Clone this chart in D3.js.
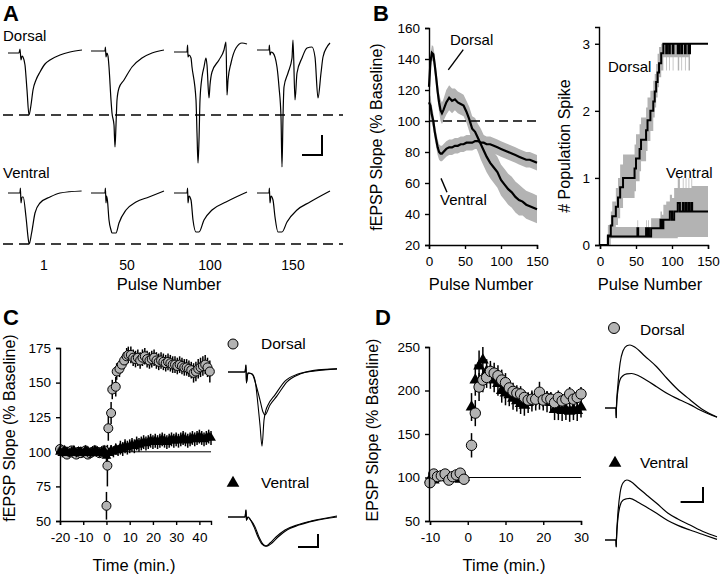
<!DOCTYPE html>
<html><head><meta charset="utf-8">
<script src="https://cdn.jsdelivr.net/npm/d3@7"></script>
<style>body{margin:0;background:#fff}svg{display:block}</style>
</head><body><svg id="fig" width="720" height="578"></svg>
<script>
// ---------------- DATA ----------------
// Panel A: example fEPSP traces [ms, mV] at pulses 1, 50, 100, 150
const pulseLabels = ["1", "50", "100", "150"];
const dorsalA1 = [[0,-0.05],[2.75,-0.05],[3,0.15],[3.25,-0.4],[3.5,-0.2],[3.75,-0.25],[4.25,-0.65],[4.75,-1.9],[5.25,-3.15],[5.75,-2.65],[6.25,-1.9],[7,-1.4],[8,-1],[9.25,-0.6],[10.5,-0.4],[13,-0.15],[15.5,0],[18.5,0.1]];
const dorsalA2 = [[0,0.05],[3.5,0.05],[3.6,0.25],[3.75,-0.25],[4,-0.05],[4.25,-0.2],[4.5,-0.75],[5,-2.4],[5.25,-3.05],[5.75,-3.65],[6,-4.75],[6.25,-3.65],[6.5,-2.4],[7,-1.8],[8.25,-1.4],[10.25,-0.75],[12.75,-0.3],[15.25,-0.05],[18.25,0.1]];
const dorsalA3 = [[0,0],[3.25,0],[3.4,0.35],[3.5,-0.25],[3.75,-0.15],[4.25,-0.3],[4.5,-0.75],[5.5,-2.4],[5.75,-4.05],[6,-5.55],[6.25,-4.4],[6.5,-2.4],[7,-1.25],[7.5,-0.75],[8,-0.3],[8.25,-0.65],[8.75,-2.3],[9,-1.65],[9.5,-1],[11.25,-0.4],[12.5,0.1],[13,0.5],[13.25,-2.15],[13.5,-1.4],[14.25,-0.55],[15.5,0.2],[17,0.45],[18.25,0.4]];
const dorsalA4 = [[0,0.1],[3,0.1],[3.1,0.35],[3.25,-0.15],[3.5,0],[4,-0.05],[5,-0.75],[5.5,-1.75],[6,-3.25],[6.25,-5.75],[6.5,-3.25],[6.75,-1.75],[7.75,-1.05],[8.75,-0.3],[9,0.6],[9.5,-2.4],[10,-1.05],[11.25,-0.3],[12.5,0.2],[13.75,0.25],[14.5,-0.25],[15.25,-2.3],[16,-1.05],[16.5,-0.25],[17.5,0.25],[18.25,0.45]];
const ventralA1 = [[0,0],[3,0],[3.1,0.25],[3.25,-0.5],[3.5,-0.2],[3.8,-0.2],[4.5,-1.2],[5.1,-2.35],[5.3,-2.55],[5.9,-2],[6.75,-1],[8,-0.5],[10.5,-0.2],[13,0],[18.4,0.1]];
const ventralA2 = [[0,0],[3.5,0],[3.6,0.25],[3.75,-0.5],[3.9,-0.15],[4.1,-0.35],[4.5,-1.35],[5,-1.85],[5.25,-2],[6.25,-2],[7,-1.5],[8.75,-0.85],[11.25,-0.45],[14.5,-0.2],[18.25,0.1]];
const ventralA3 = [[0,0],[3.25,0],[3.4,0.25],[3.5,-0.5],[3.75,-0.15],[4.25,-0.35],[4.75,-1.35],[5.5,-1.95],[6.25,-1.95],[7.5,-1.35],[9.5,-0.85],[13,-0.45],[18.25,0.05]];
const ventralA4 = [[0,0],[3,0],[3.1,0.25],[3.25,-0.5],[3.5,-0.15],[4,-0.35],[4.5,-1.2],[5.25,-1.95],[6.25,-1.95],[7.5,-1.45],[10,-0.85],[13.25,-0.45],[18.25,0.1]];

// Panel B left: fEPSP slope (% baseline) vs pulse number
const pulseB = [0,2,4,6,8,10,12,14,16,18,20,24,28,32,36,40,44,48,52,56,60,64,68,72,76,80,85,90,95,100,105,110,115,120,125,130,135,140,145,150];
const dorsalB = [122,138,144,143,136,128,119,112,107,105,107,112,115,113,114,112,111,110,106,101,95,93,89,85,81,77,73,70,67,62,59,56,54,51,49,48,46,45,44,43];
const dorsalBsem = [5,5,5,5,6,6,6,6,7,7,7,8,8,8,7,7,7,7,7,8,8,9,9,10,10,10,10,10,10,10,10,10,10,10,10,9,9,9,9,9];
const ventralB = [112,110,104,100,93,88,83,80,79,79,80,82,83,83,84,84,85,85,86,86,86,87,87,86,86,85,85,84,83,82,81,80,79,78,77,76,75,75,74,73];
const ventralBsem = [6,6,6,5,5,5,5,5,5,5,5,5,5,5,5,5,5,5,5,5,5,5,5,5,5,5,5,5,5,5,5,5,5,5,5,5,5,5,5,5];

// Panel B right: # population spikes (step data)
const spikePulseD = [0,11,15,17,22,25,28,32,48,50,55,57,64,66,70,74,76,78,80,82,85,88,92,93,96,97,101,102,108,110,113,114,118,119,123,125,150];
const spikeDorsal = [0,0.14,0.29,0.43,0.57,0.71,0.86,1.0,1.14,1.29,1.43,1.57,1.71,1.86,2.0,2.14,2.29,2.43,2.57,2.71,2.86,3,2.86,3,2.86,3,2.86,3,2.86,3,2.86,3,2.86,3,2.86,3,3];
const spikeDorsalLo = [0,0,0.1,0.2,0.3,0.4,0.55,0.7,0.8,0.95,1.1,1.25,1.4,1.55,1.7,1.9,2.05,2.2,2.35,2.5,2.6,2.8,2.6,2.8,2.6,2.8,2.6,2.8,2.6,2.8,2.6,2.8,2.6,2.8,2.6,3,3];
const spikeDorsalHi = [0,0.3,0.5,0.65,0.85,1.0,1.2,1.35,1.5,1.65,1.8,1.9,2.05,2.2,2.3,2.45,2.55,2.7,2.85,2.95,3,3,3,3,3,3,3,3,3,3,3,3,3,3,3,3,3];
const spikePulseV = [0,11,52,53,64,65,67,68,71,84,86,88,92,97,100,103,108,111,115,116,119,120,123,124,127,128,150];
const spikeVentral = [0,0.125,0.25,0.125,0.25,0.125,0.25,0.125,0.25,0.375,0.25,0.375,0.375,0.5,0.375,0.5,0.625,0.5,0.625,0.5,0.625,0.5,0.625,0.5,0.625,0.5,0.5];
const spikeVentralLo = [0,0.1,0.1,0.1,0.1,0.1,0.1,0.1,0.1,0.1,0.1,0.1,0.1,0.1,0.1,0.1,0.12,0.12,0.12,0.12,0.12,0.12,0.12,0.12,0.12,0.12,0.12];
const spikeVentralHi = [0,0.27,0.37,0.27,0.37,0.27,0.37,0.27,0.4,0.5,0.45,0.6,0.65,0.75,0.7,0.85,1.0,0.85,1.0,0.85,1.0,0.85,1.0,0.85,1.0,0.88,0.88];

// Panel C: LTP time course (fEPSP slope, % baseline)
const timeCd = [-20,-19,-18,-17,-16,-15,-14,-13,-12,-11,-10,-9,-8,-7,-6,-5,-4,-3,-2,-1,0,0.4,0.8,2,2.5,4,4.4,5.6,6.6,7.6,8.7,9.4,10.5,11.5,12.5,13.5,14.5,15.5,16.5,17.5,18.5,19.5,20.5,21.5,22.5,23.5,24.5,25.5,26.5,27.5,28.5,29.5,30.5,31.5,32.5,33.5,34.5,35.5,36.5,37.5,38.5,39.5,40.5,41.5,42.5,43.5,44.5];
const dorsalC = [102,101,100,98,100,101,99,98,100,99,100,101,98,99,100,101,100,99,100,101,61,90,117,128,145,147,158,160,163,166,169,170,170,168,167,168,166,168,169,167,166,167,168,166,165,166,165,164,165,164,163,163,162,163,162,161,161,160,159,157,158,160,161,162,163,161,158];
const dorsalCerr = [3,3,3,3,3,3,3,3,3,3,3,3,3,3,3,3,3,3,3,3,10,15,9,8,7,7,6,6,6,6,6,6,6,6,6,6,6,6,6,6,6,6,6,6,6,6,6,6,6,6,6,6,6,6,6,6,6,6,6,7,7,7,7,7,7,7,8];
const timeCv = [-20,-19,-18,-17,-16,-15,-14,-13,-12,-11,-10,-9,-8,-7,-6,-5,-4,-3,-2,-1,0,1,2,3,4,5,6,7,8,9,10,11,12,13,14,15,16,17,18,19,20,21,22,23,24,25,26,27,28,29,30,31,32,33,34,35,36,37,38,39,40,41,42,43,44,45];
const ventralC = [100,99,101,100,99,100,101,99,100,100,99,101,100,99,100,101,100,99,100,101,97,99,101,100,102,101,103,102,104,103,104,105,104,106,105,106,107,106,107,108,107,108,107,108,109,108,107,108,109,108,109,108,109,110,109,108,109,110,109,110,111,110,109,110,111,110];
const ventralCerr = [3,3,3,3,3,3,3,3,3,3,3,3,3,3,3,3,3,3,3,3,4,4,4,4,4,4,5,5,5,5,5,5,5,5,5,5,5,5,5,5,5,5,5,5,5,5,5,5,5,5,5,5,5,5,5,5,5,5,5,5,5,5,5,5,5,5];
// Panel C traces [ms, mV]
const dorsalC1 = [[0,0],[4.25,0],[4.5,0.27],[4.6,-0.42],[5,-0.04],[6,-0.08],[6.75,-0.31],[7.5,-1.27],[8,-2.04],[8.5,-2.85],[9,-1.85],[9.5,-1.46],[10,-1.27],[11.75,-0.88],[14.25,-0.35],[17.5,-0.08],[21.75,0.04],[27.25,0.12]];
const dorsalC2 = [[0,0],[4.25,0],[4.5,0.27],[4.6,-0.42],[5,-0.04],[6,-0.08],[7,-0.5],[8,-1.08],[8.75,-1.54],[9.25,-1.65],[10.5,-1.27],[12.25,-0.92],[14.75,-0.38],[18,-0.08],[22.5,0.08],[27.25,0.12]];
const ventralC1 = [[0,0],[4.25,0],[4.5,0.27],[4.6,-0.12],[5,0],[5.5,-0.08],[6.5,-0.38],[7.5,-0.77],[8.5,-1.04],[9.5,-1.12],[10.5,-1],[12,-0.77],[14.25,-0.5],[17.25,-0.31],[21,-0.15],[27.25,0.04]];
const ventralC2 = [[0,0],[4.25,0],[4.5,0.27],[4.6,-0.12],[5,0],[5.5,-0.08],[6.75,-0.38],[7.75,-0.77],[8.75,-1.04],[9.75,-1.12],[11,-1],[12.5,-0.77],[14.75,-0.5],[17.75,-0.31],[21.5,-0.15],[27.25,0]];

// Panel D: EPSP slope (% baseline)
const timeD = [-10,-9,-8,-7,-6,-5,-4,-3,-2,-1,1,2,3,4,5,6,7,8,9,10,11,12,13,14,15,16,17,18,19,20,21,22,23,24,25,26,27,28,29,30];
const dorsalD = [94,104,101,102,104,97,101,103,105,98,137,174,204,212,215,222,220,217,212,209,203,199,197,196,192,189,190,190,198,189,191,190,186,192,188,190,196,190,192,196];
const dorsalDerr = [5,5,5,5,5,5,5,5,5,5,14,15,16,14,12,12,12,12,12,11,10,10,9,9,8,8,8,8,12,8,8,8,8,8,8,8,8,8,8,8];
const ventralD = [98,97,100,101,100,99,100,99,98,100,181,212,228,235,222,216,212,208,200,197,195,191,188,185,183,186,188,189,190,189,187,186,178,178,177,178,176,178,177,181];
const ventralDerr = [4,4,4,4,4,4,4,4,4,4,16,18,18,15,14,14,14,14,14,14,13,13,12,12,12,12,12,12,12,12,12,12,12,12,12,12,12,12,12,12];
// Panel D traces [ms, mV]
const dorsalD1 = [[0,0],[9.8,0],[10,-1.3],[10.2,0],[11.5,3],[13.5,6],[16,7.6],[19.5,8.3],[22.3,8.4],[26.8,8.1],[35.7,6.9],[46.1,5.5],[55,4.0],[64,2.6],[75.9,1.1],[87.8,-0.27],[100,-1.2]];
const dorsalD2 = [[0,0],[9.8,0],[10,-1.3],[10.2,0],[11.5,2.3],[13.5,3.8],[16,4.3],[19.5,4.55],[23.8,4.6],[30,4.3],[37,3.7],[46.1,2.84],[56,1.9],[67,1.07],[75.9,0.45],[84.8,-0.27],[100,-1.24]];
const ventralD1 = [[0,0],[9.8,0],[10,-0.9],[10.2,0],[11.5,3.5],[13.5,6.3],[16,7.6],[19.4,8],[23,7.8],[30,6.9],[38,5.9],[46.1,4.9],[56,3.6],[65,2.8],[75.9,2.0],[88,1.1],[100,0.44]];
const ventralD2 = [[0,0],[9.8,0],[10,-0.9],[10.2,0],[11.5,2.8],[13.5,4.6],[16,5.3],[19.4,5.5],[22.3,5.56],[30,5.0],[38,4.3],[46.1,3.56],[56,2.6],[65,1.95],[75.9,1.33],[88,0.7],[100,0.09]];

// ---------------- DRAWING ----------------
const FONT = '"Liberation Sans", Arial, Helvetica, sans-serif';
const TICKFS = 13.5;
const svg = d3.select("#fig");
svg.append("rect").attr("width",720).attr("height",578).attr("fill","#fff");
const BAND = "#b3b3b3";
const plain = d => String(d);

function styleAxis(g, fs) {
  g.select(".domain").attr("stroke","#000").attr("stroke-width",1.4);
  g.selectAll(".tick line").attr("stroke","#000").attr("stroke-width",1.4);
  g.selectAll(".tick text").attr("font-size",fs||TICKFS).attr("fill","#000").attr("font-family",FONT);
}
function txt(x,y,s,opt){
  opt=opt||{};
  const t=svg.append("text").attr("x",x).attr("y",y).text(s)
    .attr("font-family",FONT).attr("font-size",opt.size||16).attr("fill","#000")
    .attr("text-anchor",opt.anchor||"start");
  if(opt.bold) t.attr("font-weight","bold");
  if(opt.rotate) t.attr("transform",`rotate(-90,${x},${y})`);
  return t;
}
function trace(g, data, xs, ys, w) {
  g.append("path").datum(data).attr("fill","none").attr("stroke","#000")
    .attr("stroke-width",w||1.2).attr("stroke-linejoin","round")
    .attr("d", d3.line().x(d=>xs(d[0])).y(d=>ys(d[1])).curve(d3.curveMonotoneX));
}

// Panel labels
txt(3,21,"A",{size:22,bold:true});
txt(373,21,"B",{size:22,bold:true});
txt(3,325,"C",{size:22,bold:true});
txt(375,325,"D",{size:22,bold:true});

// ---------- Panel A ----------
{
  const band = d3.scaleBand().domain(pulseLabels).range([8,340]);
  const tA = d3.scaleLinear().domain([0,18.5]).range([0,74]);
  const yDor = d3.scaleLinear().domain([0,-1]).range([52,72]);
  const yVen = d3.scaleLinear().domain([0,-1]).range([193,213]);
  const gA = svg.append("g");
  const dors = [dorsalA1,dorsalA2,dorsalA3,dorsalA4];
  const vens = [ventralA1,ventralA2,ventralA3,ventralA4];
  pulseLabels.forEach((p,i)=>{
    const x0 = band(p);
    const xs = d3.scaleLinear().domain(tA.domain()).range([x0+tA(0), x0+tA(18.5)]);
    trace(gA, dors[i], xs, yDor, 1.2);
    trace(gA, vens[i], xs, yVen, 1.2);
    txt(x0+tA(9), 270, p, {size:14, anchor:"middle"});
  });
  const dMin = d3.min(dorsalA1, d=>d[1]), vMin = d3.min(ventralA1, d=>d[1]);
  gA.append("line").attr("x1",3).attr("x2",343).attr("y1",yDor(dMin)).attr("y2",yDor(dMin))
    .attr("stroke","#000").attr("stroke-width",1.5).attr("stroke-dasharray","10,6");
  gA.append("line").attr("x1",3).attr("x2",343).attr("y1",yVen(vMin)).attr("y2",yVen(vMin))
    .attr("stroke","#000").attr("stroke-width",1.5).attr("stroke-dasharray","10,6");
  // scale bar 5 ms / 1 mV
  const sbx = 322, sby = 155;
  gA.append("path").attr("d",`M${sbx-tA(5)},${sby}H${sbx}V${sby-(yDor(-1)-yDor(0))}`)
    .attr("fill","none").attr("stroke","#000").attr("stroke-width",2);
  txt(3,41,"Dorsal",{size:15});
  txt(3,178,"Ventral",{size:15});
  txt(169,290,"Pulse Number",{size:16.5,anchor:"middle"});
}

// ---------- Panel B left ----------
{
  const x = d3.scaleLinear().domain([0,150]).range([429,537]);
  const y = d3.scaleLinear().domain([20,160]).range([245,28]);
  const g = svg.append("g");
  const idx = d3.range(pulseB.length);
  const area = (vals, sem)=>d3.area().x(i=>x(pulseB[i])).y0(i=>y(vals[i]-sem[i])).y1(i=>y(vals[i]+sem[i]));
  g.append("path").datum(idx).attr("fill",BAND).attr("d",area(dorsalB,dorsalBsem));
  g.append("path").datum(idx).attr("fill",BAND).attr("d",area(ventralB,ventralBsem));
  g.append("line").attr("x1",x(0)).attr("x2",x(150)).attr("y1",y(100)).attr("y2",y(100))
    .attr("stroke","#000").attr("stroke-width",1.4).attr("stroke-dasharray","9,5");
  const ln = vals=>d3.line().x(i=>x(pulseB[i])).y(i=>y(vals[i]));
  g.append("path").datum(idx).attr("fill","none").attr("stroke","#000").attr("stroke-width",2.2).attr("d",ln(ventralB));
  g.append("path").datum(idx).attr("fill","none").attr("stroke","#000").attr("stroke-width",2.2).attr("d",ln(dorsalB));
  const ax = g.append("g").attr("transform",`translate(0,${y(20)})`)
    .call(d3.axisBottom(x).tickValues([0,50,100,150]).tickFormat(plain).tickSizeOuter(0).tickSize(4).tickPadding(7));
  styleAxis(ax);
  const ay = g.append("g").attr("transform",`translate(${x(0)},0)`)
    .call(d3.axisLeft(y).tickValues([20,40,60,80,100,120,140,160]).tickFormat(plain).tickSizeOuter(0).tickSize(4).tickPadding(5));
  styleAxis(ay);
  // annotations
  g.append("line").attr("x1",x(26.8)).attr("y1",y(133)).attr("x2",x(47.6)).attr("y2",y(146)).attr("stroke","#000").attr("stroke-width",1.4);
  g.append("line").attr("x1",x(16.7)).attr("y1",y(63)).attr("x2",x(25)).attr("y2",y(54)).attr("stroke","#000").attr("stroke-width",1.4);
  txt(x(29),y(149),"Dorsal",{size:15});
  txt(x(15.3),y(45.8),"Ventral",{size:15});
  txt(382,137,"fEPSP Slope (% Baseline)",{size:16,anchor:"middle",rotate:true});
  txt(481,290,"Pulse Number",{size:16.5,anchor:"middle"});
}

// ---------- Panel B right ----------
{
  const x = d3.scaleLinear().domain([0,150]).range([600,708]);
  const y = d3.scaleLinear().domain([0,3.25]).range([245,27]);
  const g = svg.append("g");
  const areaS = (px,lo,hi)=>d3.area().curve(d3.curveStepAfter).x(i=>x(px[i])).y0(i=>y(lo[i])).y1(i=>y(hi[i]));
  const lineS = (px,v)=>d3.line().curve(d3.curveStepAfter).x(i=>x(px[i])).y(i=>y(v[i]));
  const iD = d3.range(spikePulseD.length), iV = d3.range(spikePulseV.length);
  g.append("path").datum(iD).attr("fill",BAND).attr("d",areaS(spikePulseD,spikeDorsalLo,spikeDorsalHi));
  g.append("path").datum(iV).attr("fill",BAND).attr("d",areaS(spikePulseV,spikeVentralLo,spikeVentralHi));
  g.append("path").datum(iD).attr("fill","none").attr("stroke","#000").attr("stroke-width",2).attr("d",lineS(spikePulseD,spikeDorsal));
  g.append("path").datum(iV).attr("fill","none").attr("stroke","#000").attr("stroke-width",2).attr("d",lineS(spikePulseV,spikeVentral));
  const ax = g.append("g").attr("transform",`translate(0,${y(0)})`)
    .call(d3.axisBottom(x).tickValues([0,50,100,150]).tickFormat(plain).tickSizeOuter(0).tickSize(4).tickPadding(7));
  styleAxis(ax);
  const ay = g.append("g").attr("transform",`translate(${x(0)-1},0)`)
    .call(d3.axisLeft(y).tickValues([0,1,2,3]).tickFormat(plain).tickSizeOuter(0).tickSize(4).tickPadding(5));
  styleAxis(ay);
  txt(608,72,"Dorsal",{size:15});
  txt(666,178,"Ventral",{size:15});
  txt(570,146,"# Population Spike",{size:16,anchor:"middle",rotate:true});
  txt(650,290,"Pulse Number",{size:16.5,anchor:"middle"});
}

// ---------- Panel C ----------
{
  const x = d3.scaleLinear().domain([-20,45]).range([60,211]);
  const y = d3.scaleLinear().domain([50,175]).range([521,348]);
  const g = svg.append("g");
  g.append("line").attr("x1",x(-20)).attr("x2",x(45)).attr("y1",y(100)).attr("y2",y(100)).attr("stroke","#000").attr("stroke-width",1);
  // dorsal
  const dI = d3.range(timeCd.length);
  g.selectAll(".ed").data(dI).join("line").attr("x1",i=>x(timeCd[i])).attr("x2",i=>x(timeCd[i]))
    .attr("y1",i=>y(dorsalC[i]-dorsalCerr[i])).attr("y2",i=>y(dorsalC[i]+dorsalCerr[i])).attr("stroke","#000").attr("stroke-width",1.5);
  g.selectAll(".cd").data(dI).join("circle").attr("cx",i=>x(timeCd[i])).attr("cy",i=>y(dorsalC[i])).attr("r",4.5)
    .attr("fill",BAND).attr("stroke","#000").attr("stroke-width",1);
  // ventral
  const vI = d3.range(timeCv.length);
  g.selectAll(".ev").data(vI).join("line").attr("x1",i=>x(timeCv[i])).attr("x2",i=>x(timeCv[i]))
    .attr("y1",i=>y(ventralC[i]-ventralCerr[i])).attr("y2",i=>y(ventralC[i]+ventralCerr[i])).attr("stroke","#000").attr("stroke-width",1.5);
  g.selectAll(".tv").data(vI).join("path").attr("transform",i=>`translate(${x(timeCv[i])},${y(ventralC[i])})`)
    .attr("d",d3.symbol(d3.symbolTriangle,42)()).attr("fill","#000");
  const ax = g.append("g").attr("transform",`translate(0,${y(50)})`)
    .call(d3.axisBottom(x).tickValues([-20,-10,0,10,20,30,40]).tickFormat(plain).tickSizeOuter(0).tickSize(4).tickPadding(7));
  styleAxis(ax);
  const ay = g.append("g").attr("transform",`translate(${x(-20)},0)`)
    .call(d3.axisLeft(y).tickValues([50,75,100,125,150,175]).tickFormat(plain).tickSizeOuter(0).tickSize(4).tickPadding(5));
  styleAxis(ay);
  txt(15,428,"fEPSP Slope (% Baseline)",{size:16,anchor:"middle",rotate:true});
  txt(134,571,"Time (min.)",{size:16.5,anchor:"middle"});
  // legend + traces
  svg.append("circle").attr("cx",233).attr("cy",344).attr("r",5).attr("fill",BAND).attr("stroke","#000");
  txt(261,349,"Dorsal",{size:15.5});
  svg.append("path").attr("transform","translate(233,483)").attr("d",d3.symbol(d3.symbolTriangle,70)()).attr("fill","#000");
  txt(261,488,"Ventral",{size:15.5});
  const tC = d3.scaleLinear().domain([0,27.25]).range([228,337]);
  const yDc = d3.scaleLinear().domain([0,-1]).range([372,398]);
  const yVc = d3.scaleLinear().domain([0,-1]).range([517,543]);
  trace(svg, dorsalC1, tC, yDc, 1.1);
  trace(svg, dorsalC2, tC, yDc, 1.1);
  trace(svg, ventralC1, tC, yVc, 1.1);
  trace(svg, ventralC2, tC, yVc, 1.1);
  const sbx=318, sby=547;
  svg.append("path").attr("d",`M${sbx-(tC(5)-tC(0))},${sby}H${sbx}V${sby-(yVc(-0.5)-yVc(0))}`)
    .attr("fill","none").attr("stroke","#000").attr("stroke-width",2);
}

// ---------- Panel D ----------
{
  const x = d3.scaleLinear().domain([-10,30]).range([430,581]);
  const y = d3.scaleLinear().domain([50,250]).range([521,347]);
  const g = svg.append("g");
  g.append("line").attr("x1",x(-10)).attr("x2",x(30)).attr("y1",y(100)).attr("y2",y(100)).attr("stroke","#000").attr("stroke-width",1);
  const I = d3.range(timeD.length);
  g.selectAll(".ev").data(I).join("line").attr("x1",i=>x(timeD[i])).attr("x2",i=>x(timeD[i]))
    .attr("y1",i=>y(ventralD[i]-ventralDerr[i])).attr("y2",i=>y(ventralD[i]+ventralDerr[i])).attr("stroke","#000").attr("stroke-width",1.5);
  g.selectAll(".tv").data(I).join("path").attr("transform",i=>`translate(${x(timeD[i])},${y(ventralD[i])})`)
    .attr("d",d3.symbol(d3.symbolTriangle,60)()).attr("fill","#000");
  g.selectAll(".ed").data(I).join("line").attr("x1",i=>x(timeD[i])).attr("x2",i=>x(timeD[i]))
    .attr("y1",i=>y(dorsalD[i]-dorsalDerr[i])).attr("y2",i=>y(dorsalD[i]+dorsalDerr[i])).attr("stroke","#000").attr("stroke-width",1.5);
  g.selectAll(".cd").data(I).join("circle").attr("cx",i=>x(timeD[i])).attr("cy",i=>y(dorsalD[i])).attr("r",5.2)
    .attr("fill",BAND).attr("stroke","#000").attr("stroke-width",1);
  const ax = g.append("g").attr("transform",`translate(0,${y(50)})`)
    .call(d3.axisBottom(x).tickValues([-10,0,10,20,30]).tickFormat(plain).tickSizeOuter(0).tickSize(4).tickPadding(7));
  styleAxis(ax);
  const ay = g.append("g").attr("transform",`translate(${x(-10)-1},0)`)
    .call(d3.axisLeft(y).tickValues([50,100,150,200,250]).tickFormat(plain).tickSizeOuter(0).tickSize(4).tickPadding(5));
  styleAxis(ay);
  txt(378,430,"EPSP Slope (% Baseline)",{size:16,anchor:"middle",rotate:true});
  txt(504,571,"Time (min.)",{size:16.5,anchor:"middle"});
  svg.append("circle").attr("cx",614).attr("cy",328).attr("r",5.5).attr("fill",BAND).attr("stroke","#000");
  txt(640,335,"Dorsal",{size:15.5});
  svg.append("path").attr("transform","translate(615,463)").attr("d",d3.symbol(d3.symbolTriangle,70)()).attr("fill","#000");
  txt(640,468,"Ventral",{size:15.5});
  const tD = d3.scaleLinear().domain([0,100]).range([605,717]);
  const yDd = d3.scaleLinear().domain([0,1]).range([408,400.5]);
  const yVd = d3.scaleLinear().domain([0,1]).range([540,532.5]);
  trace(svg, dorsalD1, tD, yDd, 1.2);
  trace(svg, dorsalD2, tD, yDd, 1.2);
  trace(svg, ventralD1, tD, yVd, 1.2);
  trace(svg, ventralD2, tD, yVd, 1.2);
  const sbx=703, sby=502;
  svg.append("path").attr("d",`M${sbx-(tD(20)-tD(0))},${sby}H${sbx}V${sby-(yVd(0)-yVd(2))}`)
    .attr("fill","none").attr("stroke","#000").attr("stroke-width",2);
}
</script></body></html>
